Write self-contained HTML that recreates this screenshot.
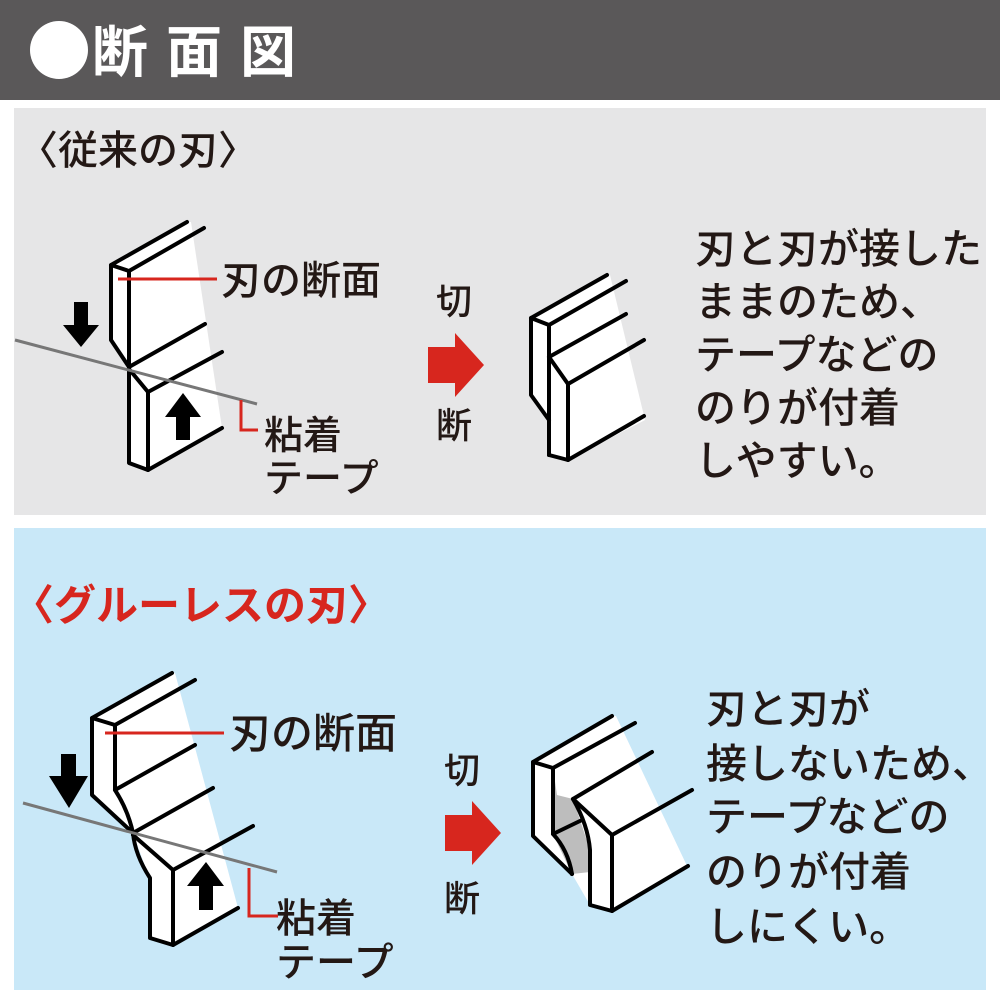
<!DOCTYPE html>
<html><head><meta charset="utf-8"><style>
html,body{margin:0;padding:0;background:#fff;}
svg{display:block}
text{font-family:"Liberation Sans","Noto Sans CJK JP",sans-serif;font-weight:500;}
</style></head><body>
<svg width="1000" height="1000" viewBox="0 0 1000 1000" xmlns="http://www.w3.org/2000/svg">
<rect x="0" y="0" width="1000" height="100" fill="#5a5859"/>
<circle cx="59" cy="50" r="29" fill="#fff"/>
<text x="92" y="72" font-size="56" style="font-weight:bold" fill="#fff" letter-spacing="18">断面図</text>
<rect x="14" y="108" width="972" height="407" fill="#e6e6e7"/>
<rect x="14" y="528" width="972" height="462" fill="#c9e8f8"/>

<text x="18" y="164" font-size="40" fill="#231815">〈従来の刃〉</text>
<text x="12" y="620" font-size="42" style="font-weight:bold" fill="#d7261e">〈グルーレスの刃〉</text>

<g fill="#231815" font-size="41">
<text x="695" y="263">刃と刃が接した</text>
<text x="695" y="316">ままのため、</text>
<text x="695" y="369">テープなどの</text>
<text x="695" y="422">のりが付着</text>
<text x="695" y="475">しやすい。</text>
<text x="706" y="723">刃と刃が</text>
<text x="706" y="778">接しないため、</text>
<text x="706" y="831">テープなどの</text>
<text x="706" y="886">のりが付着</text>
<text x="706" y="941">しにくい。</text>
<text x="221" y="294" font-size="40">刃の断面</text>
<text x="264" y="449" font-size="39">粘着</text>
<text x="264" y="492" font-size="39">テープ</text>
<text x="229" y="748" font-size="42">刃の断面</text>
<text x="276" y="932" font-size="40">粘着</text>
<text x="276" y="976" font-size="40">テープ</text>
<text x="436" y="314" font-size="36">切</text>
<text x="436" y="438" font-size="36">断</text>
<text x="444" y="783" font-size="36">切</text>
<text x="444" y="911" font-size="36">断</text>
</g>
<polygon points="428,347 455,347 455,333 484,365 455,397 455,383 428,383" fill="#d7261e"/>
<polygon points="445,815 472,815 472,801 501,833 472,865 472,851 445,851" fill="#d7261e"/>

<g stroke="#000" stroke-width="4" stroke-linejoin="round" stroke-linecap="round" fill="none">
<polygon points="111,265 187,222 191,222 222,428 148,470 129,463 129,367 111,340" fill="#fff" stroke="none"/>
<polyline points="187,222 111,265 111,340 129,367 129,463 148,470 222,428"/>
<polyline points="204,228 129,271 111,265"/>
<line x1="129" y1="271" x2="129" y2="367"/>
<line x1="129" y1="367" x2="205" y2="324"/>
<polyline points="129,369 148,392 148,470"/>
<line x1="148" y1="392" x2="222" y2="352"/>
<polygon points="531,318 607,275 610,275 645,420 568,460 549,455 549,420 531,395" fill="#fff" stroke="none"/>
<polyline points="607,275 531,318 531,395 549,420"/>
<polyline points="626,281 549,325 531,318"/>
<line x1="549" y1="325" x2="549" y2="455"/>
<line x1="549" y1="357" x2="626" y2="314"/>
<polyline points="549,357 568,384 644,340"/>
<polyline points="568,384 568,460 644,416"/>
<line x1="549" y1="455" x2="568" y2="460"/>
<polygon points="92,718 172,673 175,673 238,908 173,945 150,938 150,880 133,833 92,795" fill="#fff" stroke="none"/>
<polyline points="172,673 92,718 92,795 133,833"/>
<polyline points="195,680 115,725 92,718"/>
<path d="M115,725 L115,790 Q128,810 133,833 Q135,855 150,878 L150,938 L173,945 L238,908"/>
<line x1="115" y1="790" x2="195" y2="745"/>
<line x1="133" y1="833" x2="213" y2="788"/>
<polyline points="133,835 173,870 173,945"/>
<line x1="173" y1="870" x2="253" y2="826"/>
<polygon points="533,762 612,716 616,716 688,868 612,911 590,905 572,874 533,836" fill="#fff" stroke="none"/>
<polygon points="553,768 553,834 572,874 590,872 590,850 573,799 557,795" fill="#bdbdbd" stroke="none"/>
<polyline points="612,716 533,762 533,836 572,874"/>
<polyline points="635,723 553,768 533,762"/>
<path d="M553,768 L553,834 Q568,850 572,874"/>
<line x1="553" y1="834" x2="582" y2="820"/>
<path d="M573,799 L652,752"/>
<path d="M573,799 Q588,825 590,850 L590,905 L612,911 L688,866"/>
<polyline points="573,799 612,835 612,911"/>
<line x1="612" y1="835" x2="692" y2="790"/>
</g>
<line x1="15" y1="340" x2="257" y2="404" stroke="#777" stroke-width="3"/>
<line x1="23" y1="803" x2="277" y2="872" stroke="#777" stroke-width="3"/>
<g stroke="#d7261e" stroke-width="3" fill="none">
<line x1="118" y1="279" x2="217" y2="279"/>
<polyline points="241,400 241,430 258,430"/>
<line x1="105" y1="733" x2="224" y2="733"/>
<polyline points="249,868 249,916 278,916"/>
</g>
<g fill="#000">
<polygon points="74,302 88,302 88,325 99,325 81,347 63,325 74,325"/>
<polygon points="176,440 190,440 190,417 201,417 183,393 165,417 176,417"/>
<polygon points="61,754 76,754 76,776 88,776 69,808 49,776 61,776"/>
<polygon points="199,910 213,910 213,886 224,886 206,862 187,886 199,886"/>
</g>
</svg>
</body></html>
